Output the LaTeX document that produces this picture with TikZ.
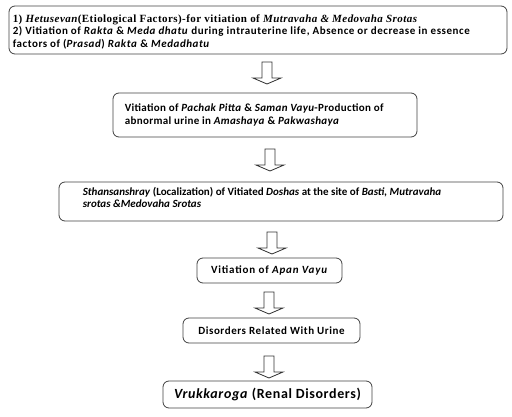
\documentclass[tikz,border=0pt]{standalone}
\usepackage{fontspec}
\setmainfont{Carlito}
\newfontfamily\tnr{Liberation Serif}
\begin{document}
\begin{tikzpicture}[x=1pt,y=1pt,
  box/.style={draw=black!75, line width=0.8pt, rounded corners=6pt, inner sep=0pt,
    font=\fontsize{11}{12.5}\selectfont\bfseries},
  txt/.style={inner sep=0pt, anchor=west, align=left, font=\fontsize{11}{12.5}\selectfont\bfseries},
  arr/.style={draw=black!80, line width=0.8pt, fill=white},
  downarr/.pic={\path[arr] (-5,0) -- (-5,-16) -- (-14,-16) -- (0,-22) -- (14,-16) -- (5,-16) -- (5,0) -- cycle;}
]
\useasboundingbox (0,0) rectangle (512,-417);
\node[box, minimum width=498, minimum height=48] (b1) at (258,-30) {};
\node[txt] (t1) at ([xshift=4pt,yshift=-1.5pt]b1.west)
 {{\tnr\fontsize{11}{12.5}\selectfont\addfontfeature{LetterSpace=4} 1) \textit{Hetusevan}(Etiological Factors)-for vitiation of \textit{Mutravaha \& Medovaha Srotas}}\\
  \addfontfeature{LetterSpace=5}2) Vitiation of \textit{Rakta} \& \textit{Meda dhatu} during intrauterine life, Absence or decrease in essence\\
  \addfontfeature{LetterSpace=5}factors of (\textit{Prasad}) \textit{Rakta} \& \textit{Medadhatu}};
\node[box, minimum width=304, minimum height=44] (b2) at (265,-115) {};
\node[txt, font=\fontsize{11}{12.5}\selectfont\bfseries\addfontfeature{LetterSpace=3}] (t2) at ([xshift=12pt]b2.west)
 {Vitiation of \textit{Pachak Pitta} \& \textit{Saman Vayu}-Production of\\
  abnormal urine in \textit{Amashaya} \& \textit{Pakwashaya}};
\node[box, minimum width=444, minimum height=39] (b3) at (281,-201.5) {};
\node[txt] (t3) at ([xshift=24pt,yshift=4pt]b3.west)
 {\textit{Sthansanshray} (Localization) of Vitiated \textit{Doshas} at the site of \textit{Basti, Mutravaha}\\
  \textit{srotas \&Medovaha Srotas}};
\node[box, minimum width=145, minimum height=25, font=\fontsize{11}{12.5}\selectfont\bfseries\addfontfeature{LetterSpace=7.5}] (b4) at (269.5,-270.5) {Vitiation of \textit{Apan Vayu}};
\node[box, minimum width=177, minimum height=25, font=\fontsize{11}{12.5}\selectfont\bfseries\addfontfeature{LetterSpace=5}] (b5) at (271.5,-330.5) {Disorders Related With Urine};
\node[box, minimum width=209, minimum height=27, font=\fontsize{14}{16}\selectfont\bfseries\addfontfeature{LetterSpace=4.5}] (b6) at (267.5,-394.5)
 {\textit{Vrukkaroga} (Renal Disorders)};
\pic (a1) at (267,-62) {downarr};
\pic (a2) at (270,-149) {downarr};
\pic (a3) at (272,-232) {downarr};
\pic (a4) at (269,-292) {downarr};
\pic (a5) at (269,-356) {downarr};
\end{tikzpicture}
\end{document}
